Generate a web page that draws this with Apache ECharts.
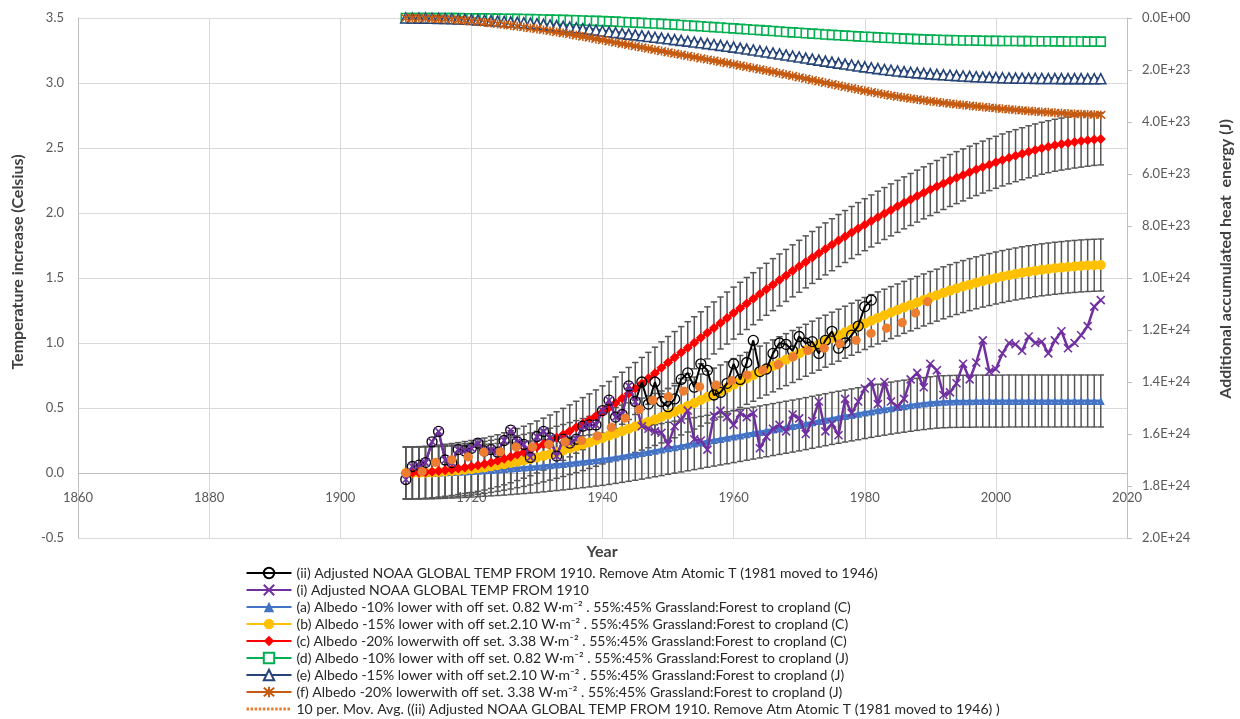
<!DOCTYPE html>
<html>
<head>
<meta charset="utf-8">
<script src="https://cdn.jsdelivr.net/npm/echarts@6/dist/echarts.min.js"></script>
<style>
  html, body { margin: 0; padding: 0; background: #ffffff; }
  #chart { width: 1240px; height: 719px; }
</style>
</head>
<body>
<div id="chart"></div>
<script>
// ---- data ---------------------------------------------------------------
const firstYear = 1910;

// (i) Adjusted NOAA global temperature from 1910 (°C), 1910..2016
const tempI = [
  -0.05, 0.05, 0.06, 0.08, 0.24, 0.32, 0.10, 0.08, 0.18, 0.17,
  0.19, 0.23, 0.17, 0.18, 0.16, 0.25, 0.33, 0.24, 0.22, 0.12,
  0.28, 0.32, 0.27, 0.13, 0.26, 0.23, 0.26, 0.36, 0.37, 0.37,
  0.48, 0.56, 0.43, 0.45, 0.67, 0.55, 0.36, 0.34, 0.32, 0.31,
  0.22, 0.36, 0.41, 0.48, 0.26, 0.25, 0.18, 0.44, 0.48, 0.43,
  0.37, 0.46, 0.43, 0.46, 0.19, 0.28, 0.34, 0.37, 0.32, 0.45,
  0.42, 0.30, 0.40, 0.55, 0.32, 0.38, 0.29, 0.57, 0.46, 0.55,
  0.65, 0.70, 0.53, 0.70, 0.55, 0.51, 0.57, 0.72, 0.77, 0.66,
  0.84, 0.79, 0.60, 0.62, 0.69, 0.84, 0.72, 0.85, 1.02, 0.78,
  0.80, 0.92, 1.00, 0.99, 0.94, 1.05, 1.00, 1.01, 0.92, 1.02,
  1.09, 0.96, 1.00, 1.06, 1.13, 1.28, 1.33
];

// (ii) Adjusted NOAA global temperature, 1981 moved to 1946 (°C), 1910..1981
const tempII = [
  -0.05, 0.05, 0.06, 0.08, 0.24, 0.32, 0.10, 0.08, 0.18, 0.17,
  0.19, 0.23, 0.17, 0.18, 0.16, 0.25, 0.33, 0.24, 0.22, 0.12,
  0.28, 0.32, 0.27, 0.13, 0.26, 0.23, 0.26, 0.36, 0.37, 0.37,
  0.48, 0.56, 0.43, 0.45, 0.67, 0.55,
  0.70, 0.53, 0.70, 0.55, 0.51, 0.57, 0.72, 0.77, 0.66, 0.84,
  0.79, 0.60, 0.62, 0.69, 0.84, 0.72, 0.85, 1.02, 0.78, 0.80,
  0.92, 1.00, 0.99, 0.94, 1.05, 1.00, 1.01, 0.92, 1.02, 1.09,
  0.96, 1.00, 1.06, 1.13, 1.28, 1.33
];

// (a) albedo -10 % temperature response (°C), 1910..2016
const albedoA = [
  0.000,
  0.000, 0.000, 0.001, 0.002, 0.003, 0.005, 0.007, 0.009, 0.012, 0.015,
  0.018, 0.021, 0.024, 0.027, 0.030, 0.034, 0.038, 0.042, 0.046, 0.050,
  0.055, 0.060, 0.065, 0.070, 0.075, 0.081, 0.087, 0.093, 0.099, 0.105,
  0.112, 0.120, 0.128, 0.136, 0.144, 0.153, 0.162, 0.171, 0.180, 0.190,
  0.199, 0.208, 0.217, 0.226, 0.235, 0.244, 0.253, 0.262, 0.271, 0.280,
  0.289, 0.298, 0.307, 0.316, 0.325, 0.334, 0.343, 0.352, 0.361, 0.370,
  0.380, 0.390, 0.400, 0.410, 0.420, 0.429, 0.438, 0.447, 0.456, 0.465,
  0.474, 0.483, 0.491, 0.499, 0.507, 0.514, 0.521, 0.528, 0.534, 0.540,
  0.545, 0.548, 0.550, 0.551, 0.552, 0.552, 0.553, 0.553, 0.553, 0.553,
  0.553, 0.554, 0.554, 0.554, 0.554, 0.554, 0.554, 0.554, 0.554, 0.554,
  0.554, 0.554, 0.554, 0.554, 0.554, 0.554
];

// (b) albedo -15 % temperature response (°C), 1910..2016
const albedoB = [
  0.000,
  0.000, 0.001, 0.002, 0.004, 0.007, 0.011, 0.015, 0.020, 0.025, 0.030,
  0.036, 0.043, 0.051, 0.059, 0.068, 0.077, 0.087, 0.097, 0.108, 0.120,
  0.132, 0.145, 0.159, 0.173, 0.188, 0.203, 0.219, 0.235, 0.252, 0.270,
  0.287, 0.304, 0.322, 0.340, 0.358, 0.376, 0.394, 0.412, 0.431, 0.450,
  0.471, 0.493, 0.515, 0.538, 0.561, 0.584, 0.607, 0.631, 0.655, 0.680,
  0.704, 0.728, 0.752, 0.776, 0.800, 0.824, 0.848, 0.872, 0.896, 0.920,
  0.944, 0.968, 0.991, 1.014, 1.037, 1.060, 1.083, 1.106, 1.128, 1.150,
  1.172, 1.193, 1.214, 1.234, 1.254, 1.274, 1.293, 1.312, 1.331, 1.350,
  1.368, 1.386, 1.403, 1.419, 1.434, 1.449, 1.463, 1.476, 1.488, 1.500,
  1.511, 1.521, 1.531, 1.540, 1.548, 1.556, 1.563, 1.569, 1.575, 1.580,
  1.585, 1.589, 1.593, 1.596, 1.598, 1.600
];

// (c) albedo -20 % temperature response (°C), 1910..2016
const albedoC = [
  0.000,
  0.001, 0.003, 0.006, 0.010, 0.015, 0.021, 0.027, 0.034, 0.042, 0.050,
  0.059, 0.069, 0.081, 0.094, 0.109, 0.125, 0.142, 0.160, 0.179, 0.200,
  0.222, 0.246, 0.271, 0.297, 0.324, 0.352, 0.380, 0.409, 0.439, 0.470,
  0.504, 0.539, 0.575, 0.612, 0.650, 0.689, 0.728, 0.768, 0.809, 0.850,
  0.888, 0.926, 0.964, 1.002, 1.040, 1.078, 1.116, 1.154, 1.192, 1.230,
  1.267, 1.304, 1.341, 1.377, 1.413, 1.449, 1.485, 1.520, 1.555, 1.590,
  1.624, 1.658, 1.691, 1.724, 1.756, 1.788, 1.819, 1.850, 1.880, 1.910,
  1.939, 1.968, 1.996, 2.024, 2.051, 2.078, 2.104, 2.130, 2.155, 2.180,
  2.204, 2.227, 2.250, 2.272, 2.293, 2.314, 2.334, 2.353, 2.372, 2.390,
  2.408, 2.425, 2.441, 2.456, 2.471, 2.485, 2.498, 2.510, 2.521, 2.530,
  2.538, 2.546, 2.553, 2.560, 2.566, 2.570
];

// (d)(e)(f) accumulated heat energy, in units of 1e23 J, 1910..2016
const heatD = [
  0.000,
  0.000, 0.000, 0.001, 0.002, 0.003, 0.004, 0.005, 0.006, 0.008, 0.010,
  0.013, 0.016, 0.019, 0.023, 0.027, 0.031, 0.035, 0.040, 0.045, 0.050,
  0.055, 0.061, 0.067, 0.074, 0.081, 0.088, 0.095, 0.103, 0.111, 0.120,
  0.130, 0.141, 0.152, 0.164, 0.176, 0.188, 0.200, 0.213, 0.226, 0.240,
  0.255, 0.270, 0.286, 0.302, 0.318, 0.334, 0.350, 0.366, 0.383, 0.400,
  0.417, 0.434, 0.451, 0.468, 0.485, 0.502, 0.519, 0.536, 0.553, 0.570,
  0.586, 0.602, 0.618, 0.633, 0.648, 0.663, 0.678, 0.692, 0.706, 0.720,
  0.733, 0.746, 0.758, 0.770, 0.781, 0.792, 0.802, 0.812, 0.821, 0.830,
  0.838, 0.845, 0.852, 0.858, 0.863, 0.868, 0.872, 0.875, 0.878, 0.880,
  0.882, 0.884, 0.886, 0.888, 0.890, 0.892, 0.894, 0.896, 0.898, 0.900,
  0.902, 0.904, 0.905, 0.907, 0.908, 0.910
];
const heatE = [
  0.000,
  0.001, 0.003, 0.006, 0.010, 0.015, 0.021, 0.029, 0.038, 0.048, 0.060,
  0.073, 0.087, 0.102, 0.117, 0.133, 0.149, 0.166, 0.183, 0.201, 0.220,
  0.242, 0.266, 0.291, 0.318, 0.346, 0.375, 0.405, 0.436, 0.468, 0.500,
  0.530, 0.560, 0.590, 0.620, 0.650, 0.680, 0.710, 0.740, 0.770, 0.800,
  0.830, 0.860, 0.891, 0.922, 0.954, 0.986, 1.019, 1.052, 1.086, 1.120,
  1.156, 1.193, 1.230, 1.268, 1.306, 1.344, 1.383, 1.422, 1.461, 1.500,
  1.540, 1.580, 1.619, 1.658, 1.696, 1.734, 1.771, 1.808, 1.844, 1.880,
  1.914, 1.947, 1.978, 2.008, 2.036, 2.062, 2.087, 2.110, 2.131, 2.150,
  2.168, 2.185, 2.201, 2.216, 2.231, 2.245, 2.258, 2.270, 2.281, 2.290,
  2.298, 2.305, 2.311, 2.316, 2.320, 2.323, 2.326, 2.328, 2.329, 2.330,
  2.331, 2.332, 2.333, 2.334, 2.335, 2.335
];
const heatF = [
  0.000,
  0.002, 0.006, 0.012, 0.020, 0.030, 0.042, 0.058, 0.076, 0.097, 0.120,
  0.144, 0.170, 0.197, 0.226, 0.256, 0.287, 0.319, 0.352, 0.386, 0.420,
  0.458, 0.498, 0.539, 0.581, 0.624, 0.668, 0.713, 0.758, 0.804, 0.850,
  0.897, 0.944, 0.991, 1.038, 1.085, 1.132, 1.179, 1.226, 1.273, 1.320,
  1.366, 1.412, 1.458, 1.504, 1.550, 1.596, 1.642, 1.688, 1.734, 1.780,
  1.828, 1.876, 1.925, 1.974, 2.024, 2.074, 2.125, 2.176, 2.228, 2.280,
  2.333, 2.386, 2.439, 2.492, 2.544, 2.596, 2.648, 2.699, 2.750, 2.800,
  2.848, 2.894, 2.939, 2.982, 3.023, 3.062, 3.099, 3.134, 3.168, 3.200,
  3.231, 3.261, 3.290, 3.318, 3.345, 3.372, 3.398, 3.423, 3.447, 3.470,
  3.492, 3.514, 3.535, 3.555, 3.574, 3.593, 3.611, 3.628, 3.644, 3.660,
  3.675, 3.688, 3.700, 3.711, 3.721, 3.730
];
const heatUnit = 1e23;

// 10-period moving average of (ii)
const maYears = [
  1910.0, 1912.2, 1914.3, 1916.7, 1919.3, 1921.6, 1924.2, 1926.8, 1929.2, 1931.8,
  1934.4, 1936.9, 1939.5, 1941.6, 1943.7, 1946.0, 1948.2, 1950.7, 1953.2, 1955.6,
  1958.2, 1961.2, 1963.7, 1966.3, 1968.6, 1970.8, 1973.2, 1975.7, 1978.2, 1980.7,
  1983.1, 1985.5, 1987.5, 1989.6
];
const maValues = [
  0.00, 0.00, 0.08, 0.10, 0.12, 0.16, 0.16, 0.20, 0.20, 0.22,
  0.24, 0.25, 0.29, 0.36, 0.43, 0.50, 0.58, 0.59, 0.65, 0.67,
  0.68, 0.74, 0.78, 0.82, 0.88, 0.94, 0.95, 0.99, 1.01, 1.07,
  1.11, 1.15, 1.22, 1.32
];

// half-height of the error bars on (a), (b), (c), °C
const errorAmount = 0.2;

// axis ranges
const yearAxis = { min: 1860, max: 2020, step: 20 };
const tempAxis = { min: -0.5, max: 3.5, step: 0.5 };
const heatAxis = { min: 0, max: 2e24, step: 2e23 };

const seriesNames = [
  '(ii) Adjusted NOAA GLOBAL TEMP FROM 1910. Remove Atm Atomic T (1981 moved to 1946)',
  '(i) Adjusted NOAA GLOBAL TEMP FROM 1910',
  '(a) Albedo -10% lower with off set. 0.82 W\u00b7m\u207b\u00b2 . 55%:45% Grassland:Forest to cropland (C)',
  '(b) Albedo -15% lower with off set.2.10 W\u00b7m\u207b\u00b2 . 55%:45% Grassland:Forest to cropland (C)',
  '(c) Albedo -20% lowerwith off set. 3.38 W\u00b7m\u207b\u00b2 . 55%:45% Grassland:Forest to cropland (C)',
  '(d) Albedo -10% lower with off set. 0.82 W\u00b7m\u207b\u00b2 . 55%:45% Grassland:Forest to cropland (J)',
  '(e) Albedo -15% lower with off set.2.10 W\u00b7m\u207b\u00b2 . 55%:45% Grassland:Forest to cropland (J)',
  '(f) Albedo -20% lowerwith off set. 3.38 W\u00b7m\u207b\u00b2 . 55%:45% Grassland:Forest to cropland (J)',
  '10 per. Mov. Avg. ((ii) Adjusted NOAA GLOBAL TEMP FROM 1910. Remove Atm Atomic T (1981 moved to 1946) )'
];

// ---- layout -------------------------------------------------------------
const FONT = 'Lato, "Open Sans", sans-serif';
const GRID = { left: 78, right: 113, top: 18, bottom: 181 };
const PLOT_H = 719 - GRID.top - GRID.bottom;
// the year axis sits on the 0 °C line
const yearAxisOffset = -PLOT_H * (0 - tempAxis.min) / (tempAxis.max - tempAxis.min);

// ---- helpers ------------------------------------------------------------
const pairs = (vals, scale = 1) => vals.map((v, i) => [firstYear + i, v * scale]);
const errorRows = vals => vals.map((v, i) => [firstYear + i, v - errorAmount, v + errorAmount]);

function sciLabel(v) {
  if (v === 0) return '0.0E+00';
  const parts = v.toExponential(1).split('e');
  const e = parseInt(parts[1], 10);
  return parts[0] + 'E' + (e < 0 ? '-' : '+') + String(Math.abs(e)).padStart(2, '0');
}

function errorBarItem(params, api) {
  const x = api.value(0);
  const top = api.coord([x, api.value(2)]);
  const bot = api.coord([x, api.value(1)]);
  const cap = 3.2;
  const style = { stroke: '#565656', lineWidth: 1.5 };
  return {
    type: 'group',
    children: [
      { type: 'line', shape: { x1: top[0], y1: top[1], x2: bot[0], y2: bot[1] }, style },
      { type: 'line', shape: { x1: top[0] - cap, y1: top[1], x2: top[0] + cap, y2: top[1] }, style },
      { type: 'line', shape: { x1: bot[0] - cap, y1: bot[1], x2: bot[0] + cap, y2: bot[1] }, style }
    ]
  };
}

function errorSeries(vals) {
  return {
    type: 'custom', yAxisIndex: 0, z: 1, silent: true,
    renderItem: errorBarItem,
    encode: { x: 0, y: [1, 2] },
    data: errorRows(vals)
  };
}

const CROSS = 'path://M0,0L10,10M10,0L0,10';
const STAR = 'path://M0,0L10,10M10,0L0,10M5,-1L5,11';

function lineSeries(name, data, opts) {
  return Object.assign({
    name, type: 'line', data, yAxisIndex: 0, z: 2,
    showSymbol: true, showAllSymbol: true, animation: false
  }, opts);
}

// ---- chart --------------------------------------------------------------
const chart = echarts.init(document.getElementById('chart'), null, { renderer: 'canvas' });

const option = {
  animation: false,
  backgroundColor: '#ffffff',
  textStyle: { fontFamily: FONT },
  grid: Object.assign({ containLabel: false }, GRID),
  xAxis: {
    type: 'value', position: 'bottom', offset: yearAxisOffset,
    min: yearAxis.min, max: yearAxis.max, interval: yearAxis.step,
    axisLine: { show: true, onZero: false, lineStyle: { color: '#bfbfbf', width: 1 } },
    axisTick: { show: false },
    axisLabel: { color: '#595959', fontSize: 13, margin: 18, fontFamily: FONT,
                 formatter: v => String(v) },
    splitLine: { show: true, lineStyle: { color: '#d9d9d9', width: 1 } }
  },
  yAxis: [
    {
      type: 'value', position: 'left',
      min: tempAxis.min, max: tempAxis.max, interval: tempAxis.step,
      axisLine: { show: true, onZero: false, lineStyle: { color: '#bfbfbf', width: 1 } },
      axisTick: { show: false },
      axisLabel: { color: '#595959', fontSize: 13, margin: 14, fontFamily: FONT,
                   formatter: v => v.toFixed(1) },
      splitLine: { show: true, lineStyle: { color: '#d9d9d9', width: 1 } }
    },
    {
      type: 'value', position: 'right', inverse: true,
      min: heatAxis.min, max: heatAxis.max, interval: heatAxis.step,
      axisLine: { show: true, onZero: false, lineStyle: { color: '#bfbfbf', width: 1 } },
      axisTick: { show: true, inside: false, length: 5, lineStyle: { color: '#bfbfbf' } },
      axisLabel: { color: '#595959', fontSize: 13, margin: 15, fontFamily: FONT,
                   formatter: sciLabel },
      splitLine: { show: false }
    }
  ],
  legend: {
    orient: 'vertical', left: 245, top: 566, padding: 0,
    itemWidth: 45, itemHeight: 13, itemGap: 3,
    selectedMode: false,
    textStyle: { fontFamily: FONT, fontSize: 14, color: '#262626', lineHeight: 14 },
    data: seriesNames.map((n, i) => i === 8
      ? { name: n, itemStyle: { color: 'rgba(0,0,0,0)', borderWidth: 0, opacity: 0 },
          lineStyle: { color: '#ed7d31', width: 3, type: [2.5, 1.6], cap: 'butt' } }
      : { name: n })
  },
  graphic: [
    { type: 'text', x: 18, y: 262, rotation: Math.PI / 2,
      style: { text: 'Temperature increase (Celsius)', font: 'bold 16px ' + FONT,
               fill: '#404040', align: 'center', verticalAlign: 'middle' } },
    { type: 'text', x: 1226, y: 259, rotation: Math.PI / 2,
      style: { text: 'Additional accumulated heat  energy (J)', font: 'bold 16px ' + FONT,
               fill: '#404040', align: 'center', verticalAlign: 'middle' } },
    { type: 'text', x: 602, y: 552,
      style: { text: 'Year', font: 'bold 16px ' + FONT,
               fill: '#404040', align: 'center', verticalAlign: 'middle' } }
  ],
  series: [
    errorSeries(albedoA),
    errorSeries(albedoB),
    errorSeries(albedoC),

    lineSeries(seriesNames[2], pairs(albedoA), {
      symbol: 'triangle', symbolSize: 8,
      itemStyle: { color: '#4472c4' }, lineStyle: { color: '#4472c4', width: 3 }
    }),
    lineSeries(seriesNames[3], pairs(albedoB), {
      symbol: 'circle', symbolSize: 10,
      itemStyle: { color: '#ffc000' }, lineStyle: { color: '#ffc000', width: 3 }
    }),
    lineSeries(seriesNames[4], pairs(albedoC), {
      symbol: 'diamond', symbolSize: 10,
      itemStyle: { color: '#ff0000' }, lineStyle: { color: '#ff0000', width: 3 }
    }),
    lineSeries(seriesNames[5], pairs(heatD, heatUnit), {
      yAxisIndex: 1, symbol: 'rect', symbolSize: 9,
      itemStyle: { color: '#ffffff', borderColor: '#00b050', borderWidth: 1.6 },
      lineStyle: { color: '#00b050', width: 3 }
    }),
    lineSeries(seriesNames[6], pairs(heatE, heatUnit), {
      yAxisIndex: 1, symbol: 'triangle', symbolSize: 10,
      itemStyle: { color: '#ffffff', borderColor: '#264478', borderWidth: 1.6 },
      lineStyle: { color: '#264478', width: 3 }
    }),
    lineSeries(seriesNames[7], pairs(heatF, heatUnit), {
      yAxisIndex: 1, symbol: STAR, symbolSize: 9,
      itemStyle: { color: 'rgba(0,0,0,0)', borderColor: '#c55a11', borderWidth: 1.6 },
      lineStyle: { color: '#c55a11', width: 3 }
    }),

    lineSeries(seriesNames[0], pairs(tempII), {
      z: 3, symbol: 'circle', symbolSize: 10,
      itemStyle: { color: 'rgba(0,0,0,0)', borderColor: '#000000', borderWidth: 1.3 },
      lineStyle: { color: '#000000', width: 2 }
    }),
    lineSeries(seriesNames[1], pairs(tempI), {
      z: 3, symbol: CROSS, symbolSize: 8,
      itemStyle: { color: 'rgba(0,0,0,0)', borderColor: '#7030a0', borderWidth: 1.6 },
      lineStyle: { color: '#7030a0', width: 2.5 }
    }),
    lineSeries(seriesNames[8], maYears.map((y, i) => [y, maValues[i]]), {
      z: 4, symbol: 'none',
      itemStyle: { color: '#ed7d31' },
      lineStyle: { color: '#ed7d31', width: 9, type: [0.5, 16], cap: 'round' }
    })
  ]
};

chart.setOption(option);
</script>
</body>
</html>
